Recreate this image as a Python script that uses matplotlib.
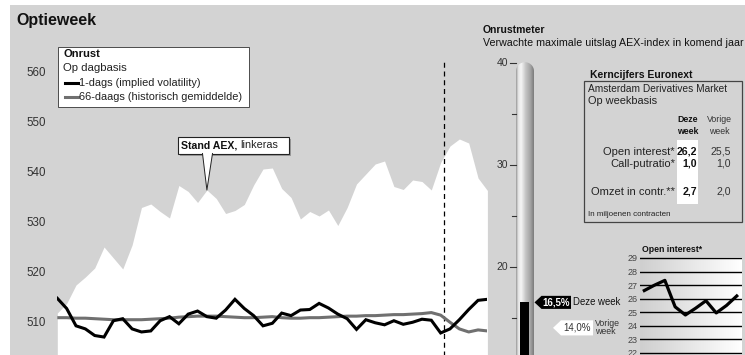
import numpy as np
import matplotlib.pyplot as plt
from matplotlib.patches import Rectangle, Polygon
from matplotlib.colors import LinearSegmentedColormap

plt.rcParams['font.family'] = ['Liberation Sans', 'DejaVu Sans']

W, H = 745, 355
GREY = '#d3d3d3'
TXT = '#333333'

# AEX slotstand per handelsdag (linkeras)
aex = [511.6, 513.5, 517.2, 518.8, 520.6, 524.8, 522.6, 520.4, 525.2, 532.7,
       533.4, 531.9, 530.6, 537.1, 535.9, 533.7, 536.2, 534.5, 531.5, 532.1,
       533.3, 537.2, 540.4, 540.6, 536.5, 534.7, 530.4, 531.9, 531.0, 532.2,
       529.1, 532.7, 537.4, 539.4, 541.4, 542.0, 536.9, 536.3, 538.2, 537.9,
       536.2, 541.7, 545.0, 546.4, 545.6, 538.6, 536.1]

# volatiliteit in %, zelfde schaal als de onrustmeter
vol_1d = [16.9, 15.9, 14.2, 13.9, 13.25, 13.1, 14.7, 14.9, 13.9, 13.6,
          13.7, 14.7, 15.1, 14.4, 15.35, 15.65, 15.1, 14.95, 15.75, 16.8,
          15.9, 15.2, 14.2, 14.45, 15.45, 15.2, 15.75, 15.8, 16.4, 15.95,
          15.35, 14.9, 13.85, 14.8, 14.5, 14.3, 14.7, 14.35, 14.55, 14.85,
          14.75, 13.5, 13.9, 14.8, 15.8, 16.7, 16.8]
vol_66d = [15.0, 15.0, 14.95, 14.95, 14.9, 14.85, 14.8, 14.8, 14.8, 14.8,
           14.85, 14.9, 14.95, 15.05, 15.1, 15.15, 15.15, 15.15, 15.1, 15.05,
           15.0, 15.0, 15.05, 15.1, 15.0, 14.95, 14.95, 15.0, 15.0, 15.05,
           15.1, 15.15, 15.15, 15.2, 15.2, 15.25, 15.3, 15.3, 15.35, 15.4,
           15.5, 15.25, 14.55, 13.9, 13.6, 13.8, 13.7]
week_start = 41.35

aex_ticks = [510, 520, 530, 540, 550, 560]

meter_now = 16.5
meter_prev = 14.0
meter_ticks = [15, 20, 25, 30, 35, 40]

oi_weeks = list(range(10))
oi = [26.6, 27.0, 27.35, 25.4, 24.8, 25.3, 25.85, 24.95, 25.5, 26.2]

rows = ['Open interest*', 'Call-putratio*', 'Omzet in contr.**']
this_week = ['26,2', '1,0', '2,7']
last_week = ['25,5', '1,0', '2,0']


def frac(x0, y0, x1, y1):
    return [x0 / W, 1 - y1 / H, (x1 - x0) / W, (y1 - y0) / H]


def pct(v):
    return f'{v:.1f}%'.replace('.', ',')


fig = plt.figure(figsize=(W / 100, H / 100), dpi=100)

# achtergrond en vaste teksten, in pixels
bg = fig.add_axes([0, 0, 1, 1], zorder=0)
bg.set_xlim(0, W)
bg.set_ylim(H, 0)
bg.axis('off')
bg.add_patch(Rectangle((10, 5), W - 10, H - 5, color=GREY, lw=0))
bg.text(16, 20, 'Optieweek', fontsize=11.5, fontweight='bold', va='center', color='#111')

bg.text(483, 30, 'Onrustmeter', fontsize=7.5, fontweight='bold', va='center', color='#111')
bg.text(483, 43, 'Verwachte maximale uitslag AEX-index in komend jaar',
        fontsize=7.7, va='center', color='#111')

# kerncijfers
bg.text(590, 75, 'Kerncijfers Euronext', fontsize=7.5, fontweight='bold', va='center', color='#111')
bg.add_patch(Rectangle((584, 81), 158, 141, fc=GREY, ec='#444', lw=0.9))
bg.add_patch(Rectangle((677, 140), 21, 64, fc='white', lw=0))
bg.text(588, 89, 'Amsterdam Derivatives Market', fontsize=7.3, va='center', color='#222')
bg.text(588, 101, 'Op weekbasis', fontsize=7.9, va='center', color='#222')
bg.text(688, 120, 'Deze', fontsize=6.3, fontweight='bold', ha='center', va='center', color='#111')
bg.text(688, 132, 'week', fontsize=6.3, fontweight='bold', ha='center', va='center', color='#111')
bg.text(719, 120, 'Vorige', fontsize=6.3, ha='center', va='center', color='#333')
bg.text(719, 132, 'week', fontsize=6.3, ha='center', va='center', color='#333')
for yy, lab, a, b in zip([152, 164, 192], rows, this_week, last_week):
    bg.text(675, yy, lab, fontsize=8, ha='right', va='center', color='#222')
    bg.text(697, yy, a, fontsize=7.6, fontweight='bold', ha='right', va='center', color='#111')
    bg.text(731, yy, b, fontsize=7.6, ha='right', va='center', color='#333')
bg.text(588, 215, 'In miljoenen contracten', fontsize=5.8, va='center', color='#222')

# AEX en volatiliteit
ax = fig.add_axes(frac(57.3, 5, 487.4, 355), zorder=1)
ax.patch.set_visible(False)
days = np.arange(len(aex))
ax.fill_between(days, aex, 490, color='white', lw=0)
ax.plot([week_start, week_start], [490, 562.2], color='black', lw=0.9, ls=(0, (4, 3)))
ax.set_xlim(0, len(aex) - 1)
ax.set_ylim(503.2, 573.2)
ax.set_yticks(aex_ticks)
ax.tick_params(axis='y', length=0, pad=8.5, labelsize=8.3, labelcolor=TXT)
ax.set_xticks([])
for s in ax.spines.values():
    s.set_visible(False)

ax2 = ax.twinx()
ax2.set_ylim(11.34, 45.66)
ax2.plot(days, vol_66d, color='#707070', lw=2.2, solid_capstyle='butt')
ax2.plot(days, vol_1d, color='black', lw=2.2, solid_joinstyle='miter')
ax2.axis('off')

# onrustmeter
th = fig.add_axes(frac(495, 5, 640, 355), zorder=2)
th.patch.set_visible(False)
lo = 11.34
tube_cmap = LinearSegmentedColormap.from_list(
    'tube', [(0, '#9a9a9a'), (0.12, '#e4e4e4'), (0.28, '#f6f6f6'),
             (0.55, '#c4c4c4'), (0.82, '#a2a2a2'), (1, '#7c7c7c')])
top, ry = 40.05, 0.88
t = np.linspace(np.pi, 0, 30)
outline = [(516, lo - 1)] + list(zip(525 + 9 * np.cos(t), top - ry + ry * np.sin(t))) + [(534, lo - 1)]
clip = Polygon(outline, closed=True, transform=th.transData, fc='none', lw=0)
th.add_patch(clip)
im = th.imshow(np.linspace(0, 1, 64).reshape(1, -1), extent=(516, 534, lo - 1, top + 0.1),
               aspect='auto', cmap=tube_cmap, origin='lower', zorder=2)
im.set_clip_path(clip)
th.bar(524.5, meter_now - (lo - 1), bottom=lo - 1, width=9, color='black', zorder=3)
for v in meter_ticks:
    major = v % 10 == 0
    th.plot([510 if major else 512, 516], [v, v], color=TXT, lw=0.8)
    if major:
        th.text(508.5, v, str(v), fontsize=7.5, ha='right', va='center', color=TXT)

hh = 0.64
th.add_patch(Polygon([(534.5, meter_now), (541.5, meter_now + hh), (571, meter_now + hh),
                      (571, meter_now - hh), (541.5, meter_now - hh)], fc='black', lw=0, zorder=4))
th.text(556, meter_now, pct(meter_now), color='white', fontsize=7, fontweight='bold',
        ha='center', va='center', zorder=5)
th.text(573, meter_now, 'Deze week', color='#111', fontsize=6.9, va='center')
hh = 0.74
th.add_patch(Polygon([(553, meter_prev), (561, meter_prev + hh), (593, meter_prev + hh),
                      (593, meter_prev - hh), (561, meter_prev - hh)], fc='white', lw=0, zorder=4))
th.text(577, meter_prev, pct(meter_prev), color=TXT, fontsize=7, ha='center', va='center', zorder=5)
th.text(595, meter_prev + 0.45, 'Vorige', color=TXT, fontsize=6.3, va='center')
th.text(595, meter_prev - 0.4, 'week', color=TXT, fontsize=6.3, va='center')
th.set_xlim(495, 640)
th.set_ylim(lo, 45.66)
th.axis('off')

# open interest per week
bg.text(642, 250, 'Open interest*', fontsize=6.3, fontweight='bold', va='center', color='#111')
oa = fig.add_axes(frac(640, 255, 742, 355), zorder=2)
oa.patch.set_visible(False)
shade = LinearSegmentedColormap.from_list('shade', ['#cfcfcf', '#ffffff'])
oa.imshow(np.linspace(0, 1, 64).reshape(1, -1), extent=(-0.42, 9.51, 21.0, 29.0),
          aspect='auto', cmap=shade, origin='lower', zorder=0)
for v in range(22, 30):
    oa.axhline(v, color='black', lw=1.0, zorder=1)
oa.plot(oi_weeks, oi, color='black', lw=2.3, zorder=2)
oa.set_xlim(-0.42, 9.51)
oa.set_ylim(21.85, 29.22)
oa.set_yticks(range(22, 30))
oa.tick_params(axis='y', length=0, pad=2, labelsize=6.5, labelcolor='#444')
oa.set_xticks([])
for s in oa.spines.values():
    s.set_visible(False)

# legenda en toelichting boven de grafiek
fg = fig.add_axes([0, 0, 1, 1], zorder=5)
fg.patch.set_visible(False)
fg.set_xlim(0, W)
fg.set_ylim(H, 0)
fg.axis('off')
fg.add_patch(Rectangle((58, 47), 191, 60, fc='white', ec='#333', lw=0.6))
fg.text(63, 54, 'Onrust', fontsize=8, fontweight='bold', va='center', color='#111')
fg.text(63, 68, 'Op dagbasis', fontsize=8.2, va='center', color='#222')
fg.plot([65, 78], [83, 83], color='black', lw=2.2)
fg.text(79, 82.5, '1-dags (implied volatility)', fontsize=7.9, va='center', color='#222')
fg.plot([65, 78], [97, 97], color='#707070', lw=2.2)
fg.text(79, 96.5, '66-daags (historisch gemiddelde)', fontsize=7.9, va='center', color='#222')

tip = fg.transData.inverted().transform(ax.transData.transform((16, aex[16])))
fg.add_patch(Rectangle((179.5, 138.5), 111, 17, fc='#9a9a9a', lw=0))
fg.add_patch(Rectangle((177.5, 136.5), 111, 17, fc='white', ec='#222', lw=0.8))
fg.add_patch(Polygon([(202.5, 153), tuple(tip), (212.5, 153)], fc='white', lw=0))
fg.plot([202.5, tip[0], 212.5], [153.5, tip[1], 153.5], color='#222', lw=0.7)
t1 = fg.text(181, 145, 'Stand AEX,', fontsize=7.6, fontweight='bold', va='center', color='#111')
fig.canvas.draw()
x_end = fg.transData.inverted().transform(t1.get_window_extent().get_points())[1, 0]
fg.text(x_end + 3, 145, 'linkeras', fontsize=7.8, va='center', color='#222')

fig.savefig('out.png', dpi=100)
